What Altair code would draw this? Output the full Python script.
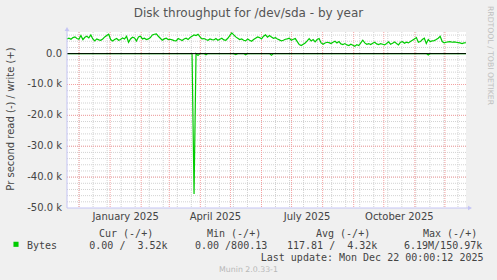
import altair as alt
import pandas as pd

# ---------------- data ----------------
# write (+) series, k bytes/s, one sample every ~2 days from 2024-11-19 to 2025-12-22
write_k = [
    4.76, 4.98, 4.65, 5.19, 5.41, 4.87, 4.65, 5.84, 4.55, 5.30,
    5.63, 5.09, 6.06, 4.76, 4.11, 4.76, 4.44, 4.33, 4.76, 5.41,
    5.84, 6.28, 4.55, 4.11, 4.55, 4.87, 4.33, 4.55, 5.09, 4.76,
    5.63, 3.68, 4.76, 5.30, 5.09, 4.11, 5.41, 5.63, 4.76, 4.98,
    4.55, 4.76, 5.19, 6.06, 6.28, 6.39, 5.63, 4.98, 4.33, 4.76,
    4.98, 4.55, 4.65, 4.44, 4.22, 4.11, 4.87, 4.55, 4.22, 4.76,
    4.98, 4.55, 5.19, 5.63, 6.06, 5.84, 6.28, 5.41, 4.76, 4.87,
    4.55, 4.33, 4.76, 4.55, 4.44, 4.87, 4.33, 4.65, 4.98, 4.44,
    4.33, 4.98, 5.84, 6.71, 6.06, 5.41, 4.98, 4.55, 4.76, 4.33,
    4.11, 4.76,
    4.33, 4.00, 4.55, 4.98, 5.41, 5.19, 4.76, 5.63, 6.06, 5.30,
    5.84, 5.41, 4.98, 5.19, 4.76, 4.44, 4.11, 4.33, 4.65, 4.76,
    4.98, 4.33, 4.65, 4.87, 3.90, 2.92, 2.60, 3.03, 3.46, 4.11,
    4.87, 4.11, 4.55, 3.79, 4.55, 4.87, 3.46, 3.03, 3.46, 3.68,
    3.57, 3.25, 3.68, 4.00, 3.46, 3.90, 3.14, 2.92, 3.25, 2.81,
    2.60, 3.03, 2.71, 2.38, 2.92, 2.60, 3.46, 4.33, 3.46, 3.03,
    3.25, 2.92, 3.35, 3.68, 3.14, 2.92, 3.25, 3.03, 2.81, 3.25,
    3.79, 3.03, 3.35, 3.79, 3.25, 2.81, 3.68, 3.90, 3.35, 3.68,
    3.46, 3.90, 4.33, 4.76, 5.19, 3.68, 3.90, 4.55, 4.98, 3.25,
    4.55, 3.90, 4.11, 4.22, 4.55, 4.98, 5.63, 3.90, 3.46, 3.68,
    3.79, 3.90, 3.68, 3.79, 3.68, 3.57, 3.46, 3.25, 3.46, 3.52,
]
# read (-) series: zero except these samples (sample index, bytes/s)
read_index = [64, 66, 70, 85, 90, 103, 182]
read_value = [-45500, -600, -400, -300, -400, -500, -450]

y_tick_values = [0, -10000, -20000, -30000, -40000, -50000]
y_tick_labels = ["0.0", "-10.0 k", "-20.0 k", "-30.0 k", "-40.0 k", "-50.0 k"]
month_labels = ["January 2025", "April 2025", "July 2025", "October 2025"]
month_label_dates = ["2025-01-16T12:00:00", "2025-04-16T00:00:00",
                     "2025-07-16T12:00:00", "2025-10-16T12:00:00"]

legend_headers = ["Cur (-/+)", "Min (-/+)", "Avg (-/+)", "Max (-/+)"]
legend_values = ["0.00 /  3.52k", "0.00 /800.13", "117.81 /  4.32k", "6.19M/150.97k"]

# ---------------- build tables ----------------
start = pd.Timestamp("2024-11-19")
end = pd.Timestamp("2025-12-22")
N = len(write_k)
dates = pd.date_range(start, end, periods=N)
read_full = [0.0] * N
for i, v in zip(read_index, read_value):
    read_full[i] = v

df = pd.DataFrame({
    "date": list(dates) * 2,
    "value": [v * 1000 for v in write_k] + read_full,
    "series": ["write"] * N + ["read"] * N,
})

hminor = pd.DataFrame({"v": list(range(-48000, 7000, 2000))})
hmajor = pd.DataFrame({"v": [-10000, -20000, -30000, -40000]})
vminor = pd.DataFrame({"d": pd.date_range("2024-12-01", end, freq="14D")})
vmajor = pd.DataFrame({"d": pd.date_range("2024-12-01", end, freq="MS")})
xlab = pd.DataFrame({"d": pd.to_datetime(month_label_dates), "t": month_labels})
ylab = pd.DataFrame({"v": y_tick_values, "t": [s.replace(" ", "\u00a0") for s in y_tick_labels]})

W, H = 399, 176
L, T = 67, 32
xscale = alt.Scale(domain=[alt.DateTime(year=2024, month=11, date=19),
                           alt.DateTime(year=2025, month=12, date=22)])
yscale = alt.Scale(domain=[-50000, 7000], nice=False, zero=False)

GREEN = "#00cc00"
TXT = "#444444"
AXC = "#c4c4f4"

grid_h_minor = alt.Chart(hminor).mark_rule(color="#d2d2d2", strokeDash=[1, 1], strokeWidth=1).encode(
    y=alt.Y("v:Q", scale=yscale, axis=None))
grid_h_major = alt.Chart(hmajor).mark_rule(color="#f4a0a0", strokeDash=[1, 1], strokeWidth=1).encode(
    y=alt.Y("v:Q", scale=yscale, axis=None))
grid_v_minor = alt.Chart(vminor).mark_rule(color="#d2d2d2", strokeDash=[1, 1], strokeWidth=1).encode(
    x=alt.X("d:T", scale=xscale, axis=None))
grid_v_major = alt.Chart(vmajor).mark_rule(color="#f4a0a0", strokeDash=[1, 1], strokeWidth=1).encode(
    x=alt.X("d:T", scale=xscale, axis=None))

lines = alt.Chart(df).mark_line(color=GREEN, strokeWidth=1.2, interpolate="linear").encode(
    x=alt.X("date:T", scale=xscale, axis=None),
    y=alt.Y("value:Q", scale=yscale, axis=None),
    detail="series:N",
)

zero_line = alt.Chart(pd.DataFrame({"v": [0]})).mark_rule(color="#000000", strokeWidth=1).encode(
    y=alt.Y("v:Q", scale=yscale, axis=None))

y_labels = alt.Chart(ylab).mark_text(font="DejaVu Sans", fontSize=10, color=TXT, align="right",
                                     baseline="middle").encode(
    x=alt.value(-5), y=alt.Y("v:Q", scale=yscale, axis=None), text="t:N")

# axis lines with arrows
axis_left = alt.Chart(pd.DataFrame({"a": [0]})).mark_rule(color=AXC, strokeWidth=1).encode(
    x=alt.value(0), y=alt.value(-3), y2=alt.value(H))
axis_bottom = alt.Chart(pd.DataFrame({"a": [0]})).mark_rule(color=AXC, strokeWidth=1).encode(
    x=alt.value(0), x2=alt.value(W + 4), y=alt.value(H))
arrow_up = alt.Chart(pd.DataFrame({"a": [0]})).mark_point(shape="triangle-up", filled=True, color=AXC,
                                                          size=22, opacity=1).encode(
    x=alt.value(0), y=alt.value(-3))
arrow_right = alt.Chart(pd.DataFrame({"a": [0]})).mark_point(shape="triangle-right", filled=True, color=AXC,
                                                             size=22, opacity=1).encode(
    x=alt.value(W + 4), y=alt.value(H))

x_labels = alt.Chart(xlab).mark_text(font="DejaVu Sans", fontSize=10, color=TXT, align="center",
                                     baseline="alphabetic").encode(
    x=alt.X("d:T", scale=xscale, axis=None), y=alt.value(220 - T), text="t:N")


def txt(s, x, y, size=10, color=TXT, font="DejaVu Sans Mono", align="left",
        baseline="alphabetic", angle=0):
    s = s.replace(" ", "\u00a0")
    return alt.Chart(pd.DataFrame({"t": [s]})).mark_text(
        font=font, fontSize=size, color=color, align=align, baseline=baseline, angle=angle
    ).encode(x=alt.value(x - L), y=alt.value(y - T), text="t:N")


texts = [
    txt("Disk throughput for /dev/sda - by year", 248.5, 17, size=12, font="DejaVu Sans",
        align="center", color="#555555"),
    txt("Pr second read (-) / write (+)", 10.5, 119, size=10, font="DejaVu Sans",
        align="center", baseline="middle", angle=270),
    txt("RRDTOOL / TOBI OETIKER", 489.8, 55.5, size=7.7, font="DejaVu Sans",
        align="center", baseline="middle", angle=90, color="#c0c0c0"),
    txt("Bytes", 27, 249),
    txt("Last update: Mon Dec 22 00:00:12 2025", 483.5, 261.3, align="right"),
    txt("Munin 2.0.33-1", 248.5, 271.7, size=7.8, font="DejaVu Sans", align="center",
        color="#b8b8b8"),
]
for s, x in zip(legend_headers, [99, 207, 316, 423]):
    texts.append(txt(s, x, 237.3))
for s, x in zip(legend_values, [89.3, 195, 287, 404]):
    texts.append(txt(s, x, 249))

legend_box = alt.Chart(pd.DataFrame({"a": [0]})).mark_square(color=GREEN, size=26, opacity=1).encode(
    x=alt.value(16 - L), y=alt.value(244.3 - T))

chart = alt.layer(
    grid_h_minor, grid_v_minor, grid_h_major, grid_v_major,
    lines, zero_line, y_labels, axis_left, axis_bottom, arrow_up, arrow_right, x_labels,
    legend_box, *texts,
).properties(
    width=W, height=H,
    padding={"left": L, "top": T, "right": 497 - L - W, "bottom": 280 - T - H},
    autosize=alt.AutoSizeParams(type="none"),
    background="#f0f0f0",
).configure_view(fill="#ffffff", stroke=None)

chart.save("out.html", embed_options={"renderer": "svg", "actions": False})
